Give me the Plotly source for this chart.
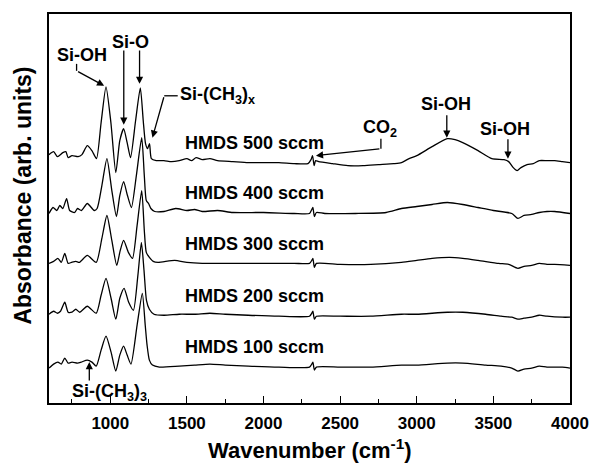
import plotly.graph_objects as go

# ---------------- data (wavenumber in cm-1, absorbance in arb. units) -------------
wn_500 = [600, 630, 655, 690, 710, 725, 750, 790, 815, 850, 880, 910, 940, 972, 1004, 1036, 1062, 1087,
          1110, 1132, 1165, 1196, 1215, 1230, 1243, 1256, 1268, 1300, 1350, 1400, 1450, 1500, 1530, 1560,
          1600, 1650, 1700, 1800, 1900, 2000, 2100, 2200, 2290, 2310, 2320, 2330, 2340, 2360, 2450, 2550,
          2650, 2750, 2850, 2900, 2950, 3000, 3100, 3200, 3250, 3300, 3400, 3490, 3570, 3600, 3630, 3655,
          3680, 3720, 3760, 3800, 3850, 3900, 3950, 4000]
abs_500 = [7, 10, 5, 9, 10, 4, 6, 5, 7, 16, 11, 3, 39, 75, 39, -11, 21, 33,
           19, 4, 41, 74, 41, 18, 13, 18, 3, 1, 1, 0, 1, 3, 1, 4,
           2, 3, 1, 0, -1, -1, -1, -2, -2, 2, 6, -4, 1, 0, -2, -4,
           -4, -3, -2, -1, 3, 6, 15, 23, 22, 19, 11, 3, 2, 0, -6, -9,
           -6, -3, -2, 1, 1, 1, 0, -1]

wn_400 = [600, 626, 651, 671, 690, 715, 735, 767, 786, 812, 850, 895, 914, 945, 978, 1010, 1040, 1062,
          1087, 1112, 1138, 1170, 1205, 1222, 1235, 1250, 1265, 1290, 1350, 1427, 1500, 1550, 1600, 1700,
          1800, 2000, 2200, 2300, 2315, 2322, 2332, 2345, 2400, 2600, 2800, 2900, 3000, 3100, 3200, 3300,
          3400, 3500, 3620, 3660, 3700, 3750, 3800, 3850, 3900, 4000]
abs_400 = [-2, 4, 1, 6, 3, 13, 1, -1, 3, 1, 8, 1, 3, 26, 53, 21, -5, 16,
           30, 16, 4, 36, 74, 36, 11, 8, 3, 0, 0, 3, 1, 2, 0, 1,
           -1, -1, -2, -2, 2, 4, -5, -1, -2, -2, -1, 3, 5, 7, 9, 7,
           4, 1, -2, -7, -4, -3, -1, 0, 0, -2]

wn_300 = [600, 630, 658, 680, 703, 725, 747, 775, 799, 850, 908, 945, 978, 1010, 1042, 1065, 1087, 1118,
          1145, 1175, 1205, 1222, 1235, 1255, 1280, 1312, 1420, 1500, 1600, 1700, 1800, 2000, 2200, 2300,
          2315, 2322, 2332, 2345, 2500, 2700, 2900, 3000, 3100, 3215, 3300, 3400, 3535, 3600, 3660, 3700,
          3750, 3800, 3850, 3900, 4000]
abs_300 = [0, 2, 5, 1, 10, 0, 1, 2, 1, 8, 1, 25, 48, 23, -2, 13, 23, 11,
           5, 38, 73, 33, 11, 6, 2, 1, 3, 1, 0, 0, 0, 0, 0, 0,
           3, 5, -4, 0, -1, -1, 1, 3, 5, 6, 5, 3, 0, -1, -5, -3,
           -2, 0, -1, -1, -2]

wn_200 = [600, 630, 655, 675, 703, 725, 750, 775, 800, 850, 908, 940, 972, 1005, 1036, 1062, 1090, 1120,
          1151, 1180, 1203, 1220, 1236, 1255, 1285, 1350, 1450, 1550, 1650, 1750, 1900, 2100, 2300, 2315,
          2322, 2332, 2345, 2500, 2700, 2900, 3000, 3200, 3300, 3450, 3550, 3620, 3660, 3700, 3750, 3800,
          3850, 3950, 4000]
abs_200 = [1, 4, 2, 4, 13, 3, 3, 6, 3, 9, 2, 20, 37, 17, -4, 17, 27, 13,
           5, 40, 73, 45, 15, 6, 1, 0, 1, 1, 2, 1, 0, -1, -1, 2,
           4, -4, -1, -1, -1, 1, 1, 3, 3, 1, -1, -2, -4, -3, -2, 0,
           -1, -2, -2]

wn_100 = [600, 630, 658, 680, 703, 725, 750, 786, 810, 850, 880, 908, 940, 972, 1005, 1036, 1062, 1087,
          1110, 1135, 1175, 1209, 1228, 1240, 1255, 1275, 1320, 1450, 1550, 1650, 1750, 1900, 2100, 2300,
          2315, 2322, 2332, 2345, 2500, 2700, 2900, 3000, 3200, 3300, 3450, 3550, 3620, 3660, 3700, 3750,
          3800, 3850, 3950, 4000]
abs_100 = [-2, 2, 4, 2, 8, 3, 4, 3, 4, 6, 4, 0, 16, 30, 14, -5, 11, 20,
           11, 2, 41, 73, 41, 21, 6, 1, -1, 0, 1, 2, 1, 0, -1, -1,
           2, 4, -4, -1, -1, -1, 1, 1, 3, 3, 1, 0, -2, -5, -3, -2,
           0, -1, -1, -2]

series_names = ["HMDS 100 sccm", "HMDS 200 sccm", "HMDS 300 sccm", "HMDS 400 sccm", "HMDS 500 sccm"]
series_wn = [wn_100, wn_200, wn_300, wn_400, wn_500]
series_abs = [abs_100, abs_200, abs_300, abs_400, abs_500]
offsets = [37, 88, 140, 192, 242]          # vertical stacking offsets (arb. units)

x_ticks = [1000, 1500, 2000, 2500, 3000, 3500, 4000]

FONT = "Liberation Sans, Arial, sans-serif"

fig = go.Figure()
for name, xs, ys, off in zip(series_names, series_wn, series_abs, offsets):
    fig.add_trace(go.Scatter(x=xs, y=[v + off for v in ys], mode="lines", name=name,
                             line=dict(color="black", width=1.3, shape="spline", smoothing=0.6),
                             showlegend=False, hoverinfo="skip"))

# series labels
label_wn = 1474
for name, off in zip(series_names, offsets):
    fig.add_annotation(x=label_wn, y=off + 19, xref="x", yref="y", text="<b>%s</b>" % name,
                       showarrow=False, xanchor="left", yanchor="middle",
                       font=dict(family=FONT, size=18, color="black"))

def txt(x, y, s, xanchor="center"):
    fig.add_annotation(x=x, y=y, xref="x", yref="y", text="<b>%s</b>" % s, showarrow=False,
                       xanchor=xanchor, yanchor="middle", font=dict(family=FONT, size=18, color="black"))

def arrow(x0, y0, x1, y1):
    fig.add_annotation(x=x1, y=y1, ax=x0, ay=y0, xref="x", yref="y", axref="x", ayref="y",
                       text="", showarrow=True, arrowhead=2, arrowsize=1.1, arrowwidth=1.3,
                       arrowcolor="black", standoff=0, startstandoff=0)

def seg(x0, y0, x1, y1):
    fig.add_shape(type="line", x0=x0, y0=y0, x1=x1, y1=y1, xref="x", yref="y",
                  line=dict(color="black", width=1.3))

# peak assignments
txt(818, 349, "Si-OH")
seg(780, 340, 780, 333)
arrow(780, 333, 960, 318)

txt(1133, 362, "Si-O")
arrow(1088, 355, 1088, 279)
arrow(1191, 355, 1191, 320)

txt(1442, 308, "Si-(CH<sub>3</sub>)<sub>x</sub>", xanchor="left")
seg(1352, 308, 1440, 308)
arrow(1352, 308, 1275, 266)

txt(2759, 275, "CO<sub>2</sub>")
seg(2766, 265, 2766, 255)
arrow(2766, 255, 2342, 248)

txt(3190, 300, "Si-OH")
arrow(3196, 290, 3196, 266)

txt(3576, 275, "Si-OH")
arrow(3595, 266, 3595, 245)

txt(992, 11, "Si-(CH<sub>3</sub>)<sub>3</sub>")
arrow(863, 21, 863, 41)

# axis titles
fig.add_annotation(x=0.5, y=-0.118, xref="paper", yref="paper",
                   text="<b>Wavenumber (cm<sup>-1</sup>)</b>", showarrow=False,
                   xanchor="center", yanchor="middle", font=dict(family=FONT, size=22, color="black"))
fig.add_annotation(x=-0.05, y=0.533, xref="paper", yref="paper",
                   text="<b>Absorbance (arb. units)</b>", showarrow=False, textangle=-90,
                   xanchor="center", yanchor="middle", font=dict(family=FONT, size=23, color="black"))

fig.update_xaxes(range=[600, 4000], tickvals=x_ticks, ticktext=["<b>%d</b>" % v for v in x_ticks],
                 ticks="inside", ticklen=7, tickwidth=1.3, tickcolor="black",
                 minor=dict(tickvals=[750, 1250, 1750, 2250, 2750, 3250, 3750], ticks="inside",
                            ticklen=4, tickwidth=1.3, tickcolor="black"),
                 showline=True, linecolor="black", linewidth=1.5, mirror=True, showgrid=False,
                 zeroline=False, tickfont=dict(family=FONT, size=17, color="black"),
                 ticklabelstandoff=4)
fig.update_yaxes(range=[0, 390], showticklabels=False, ticks="", showline=True, linecolor="black",
                 linewidth=1.5, mirror=True, showgrid=False, zeroline=False)

fig.update_layout(width=601, height=464, margin=dict(l=49, r=23, t=13, b=61),
                  plot_bgcolor="white", paper_bgcolor="white",
                  font=dict(family=FONT, color="black"))

fig.write_html("out.html")
